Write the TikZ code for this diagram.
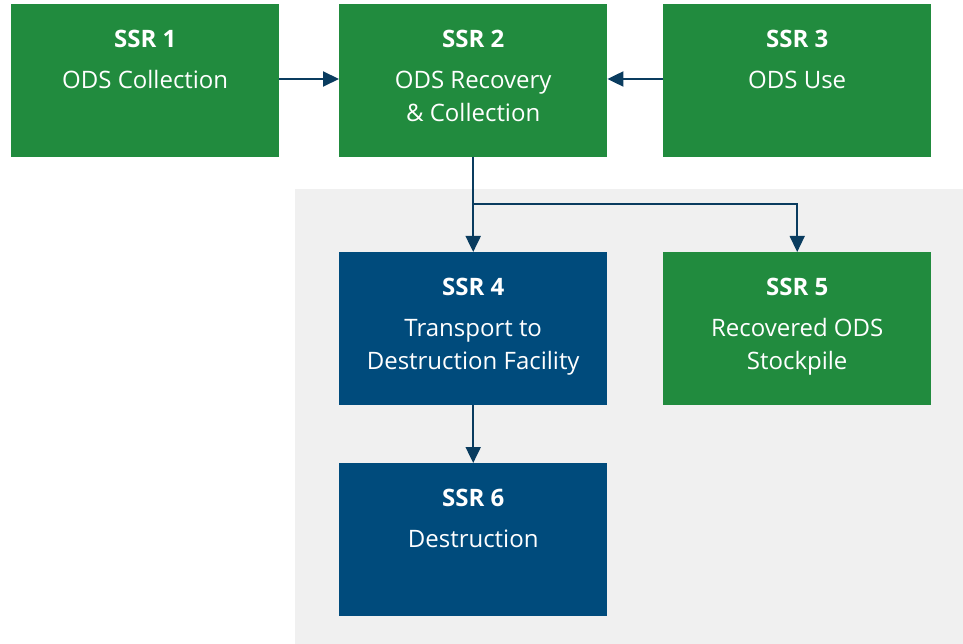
\documentclass[tikz,border=0pt]{standalone}
\usepackage{fontspec}
\setmainfont{Open Sans}
\usetikzlibrary{arrows.meta,calc}
\definecolor{ssrgreen}{RGB}{33,139,62}
\definecolor{ssrblue}{RGB}{0,75,124}
\definecolor{flowline}{RGB}{10,60,95}
\definecolor{zonegray}{RGB}{240,240,240}
\begin{document}
\begin{tikzpicture}[x=1pt,y=-1pt,
  box/.style={draw=none,minimum width=268pt,minimum height=153pt,inner sep=0pt,anchor=north west},
  greenbox/.style={box,fill=ssrgreen},
  bluebox/.style={box,fill=ssrblue},
  title/.style={anchor=base,text=white,font=\fontsize{24}{33}\selectfont\bfseries,inner sep=0pt},
  body/.style={anchor=base,text=white,font=\fontsize{24}{33}\selectfont,align=center,inner sep=0pt},
  flow/.style={draw=flowline,line width=2pt,-{Triangle[length=16pt,width=15pt]}},
  thinflow/.style={draw=flowline,line width=1.5pt,-{Triangle[length=16pt,width=15pt]}}]
  \useasboundingbox (0,0) rectangle (963,644);
  % shaded zone behind the lower stages
  \fill[zonegray] (295,189) rectangle (963,644);
  % stage boxes
  \node[greenbox] (s1) at (11,4) {};
  \node[greenbox] (s2) at (339,4) {};
  \node[greenbox] (s3) at (663,4) {};
  \node[bluebox]  (s4) at (339,252) {};
  \node[greenbox] (s5) at (663,252) {};
  \node[bluebox]  (s6) at (339,463) {};
  % box texts (a two-line text sits on the baseline of its last line)
  \node[title] (t1) at ([yshift=-43.5pt]s1.north) {SSR 1};
  \node[body]  (b1) at ([yshift=-84.5pt]s1.north) {ODS Collection};
  \node[title] (t2) at ([yshift=-43.5pt]s2.north) {SSR 2};
  \node[body]  (b2) at ([yshift=-117.5pt]s2.north) {ODS Recovery\\\& Collection};
  \node[title] (t3) at ([yshift=-43.5pt]s3.north) {SSR 3};
  \node[body]  (b3) at ([yshift=-84.5pt]s3.north) {ODS Use};
  \node[title] (t4) at ([yshift=-43.5pt]s4.north) {SSR 4};
  \node[body]  (b4) at ([yshift=-117.5pt]s4.north) {Transport to\\Destruction Facility};
  \node[title] (t5) at ([yshift=-43.5pt]s5.north) {SSR 5};
  \node[body]  (b5) at ([yshift=-117.5pt]s5.north) {Recovered ODS\\Stockpile};
  \node[title] (t6) at ([yshift=-43.5pt]s6.north) {SSR 6};
  \node[body]  (b6) at ([yshift=-84.5pt]s6.north) {Destruction};
  % connectors
  \draw[flow] (s1.east |- 0,79) -- (s2.west |- 0,79);
  \draw[flow] (s3.west |- 0,79) -- (s2.east |- 0,79);
  \coordinate (split) at (s2.south |- 0,204);
  \draw[flow] (s2.south) -- (s4.north);
  \draw[thinflow] (split) -| (s5.north);
  \draw[flow] (s4.south) -- (s6.north);
\end{tikzpicture}
\end{document}
